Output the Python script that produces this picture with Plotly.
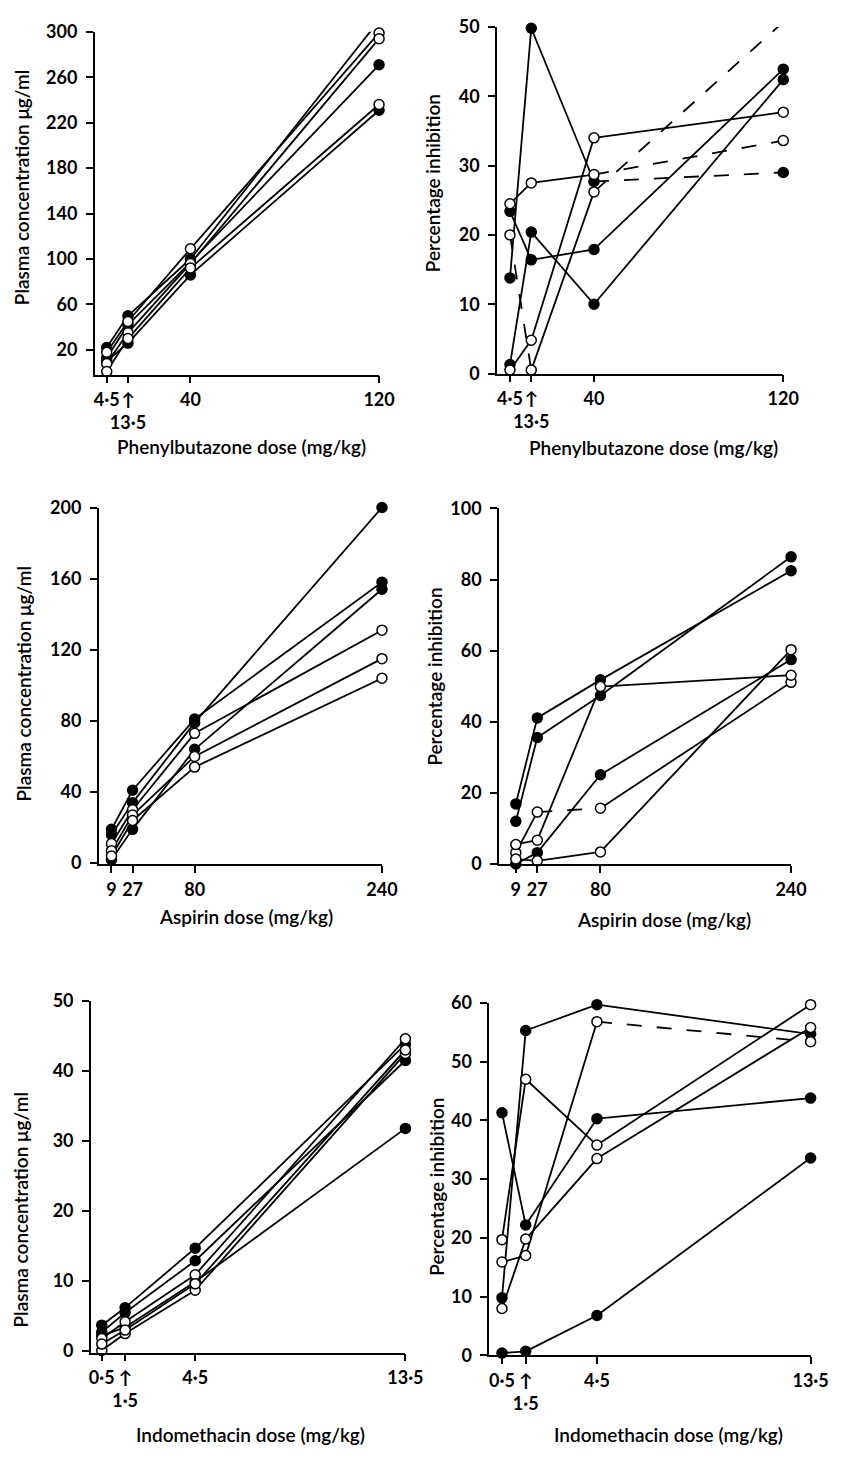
import plotly.graph_objects as go

# ---------------- data ----------------
phen_dose = [4.5, 13.5, 40, 120]
phen_conc_filled = [[22, 50, 100, 310], [13, 42, 97, 271], [10, 26, 86, 231]]
phen_conc_open = [[18, 45, 109, 299], [8, 35, 96, 294], [1, 30, 92, 236]]
phen_inh_filled = [[13.8, 49.8, 27.7, 29.0], [23.4, 16.4, 17.9, 43.9], [1.3, 20.4, 10.0, 42.4]]
phen_inh_open = [[24.5, 27.5, 28.7, 33.6], [20.0, 0.5, 26.2, 50.7], [0.5, 4.8, 34.0, 37.7]]

asp_dose = [9, 27, 80, 240]
asp_conc_filled = [[19, 41, 81, 158], [16, 34, 79, 200], [2, 19, 64, 154]]
asp_conc_open = [[11, 30, 73, 131], [7, 27, 60, 115], [4, 24, 54, 104]]
asp_inh_filled = [[16.9, 41.1, 51.8, 82.5], [12.0, 35.6, 47.4, 86.4], [0.0, 3.2, 25.1, 57.5]]
asp_inh_open = [[3.2, 14.6, 15.7, 51.1], [5.5, 6.7, 49.9, 53.1], [1.4, 0.9, 3.4, 60.3]]

indo_dose = [0.5, 1.5, 4.5, 13.5]
indo_conc_filled = [[3.7, 6.2, 14.7, 43.8], [2.7, 5.5, 12.9, 41.5], [2.2, 3.4, 9.9, 31.8]]
indo_conc_open = [[1.8, 4.2, 10.9, 44.6], [0.1, 2.5, 8.7, 42.5], [1.0, 3.0, 9.6, 43.0]]
indo_inh_filled = [[41.3, 22.2, 40.3, 43.8], [9.8, 55.3, 59.7, 54.7], [0.4, 0.7, 6.8, 33.6]]
indo_inh_open = [[19.7, 47.0, 35.8, 59.7], [15.9, 17.0, 56.8, 53.4], [8.0, 19.8, 33.5, 55.8]]

phen_ticktext = ["4·5", "↑<br>13·5", "40", "120"]
asp_ticktext = ["9", "27", "80", "240"]
indo_ticktext = ["0·5", "↑<br>1·5", "4·5", "13·5"]

# ---------------- styling ----------------
OFF = 8                      # default page body margin
W, H = 854 - OFF, 1460 - OFF
FONT = "Lato"


def px_x(p):
    return (p - OFF) / W


def px_y(p):
    return 1 - (p - OFF) / H


# dashed segments: (panel, kind, series index) -> segment indices drawn dashed
dashed = {
    (2, "f", 0): [2],
    (2, "o", 0): [2],
    (2, "o", 1): [0, 2],
    (4, "o", 0): [1],
    (6, "o", 1): [2],
}

panels = [
    # id, dose, filled, open, ticktext, yticks, xrange, yrange, xdom_px, ydom_px
    (1, phen_dose, phen_conc_filled, phen_conc_open, phen_ticktext,
     [20, 60, 100, 140, 180, 220, 260, 300], [-0.5, 120], [-1.7, 300], (95, 386), (20, 368)),
    (2, phen_dose, phen_inh_filled, phen_inh_open, phen_ticktext,
     [0, 10, 20, 30, 40, 50], [-0.9, 120], [0, 50], (507, 800), (15, 367)),
    (3, asp_dose, asp_conc_filled, asp_conc_open, asp_ticktext,
     [0, 40, 80, 120, 160, 200], [-1.8, 240], [-0.5, 200], (99, 389), (503, 865)),
    (4, asp_dose, asp_inh_filled, asp_inh_open, asp_ticktext,
     [0, 20, 40, 60, 80, 100], [-5, 240], [0, 100], (509, 808), (504, 865)),
    (5, indo_dose, indo_conc_filled, indo_conc_open, indo_ticktext,
     [0, 10, 20, 30, 40, 50], [0.04, 13.5], [-0.2, 50], (91, 413), (1004, 1361)),
    (6, indo_dose, indo_inh_filled, indo_inh_open, indo_ticktext,
     [0, 10, 20, 30, 40, 50, 60], [-0.03, 13.5], [0, 60], (499, 828), (1006, 1364)),
]

fig = go.Figure()
layout = {}

for pid, dose, filled, opened, ttext, yticks, xr, yr, xd, yd in panels:
    xa = "x" if pid == 1 else f"x{pid}"
    ya = "y" if pid == 1 else f"y{pid}"
    for kind, group in (("f", filled), ("o", opened)):
        for si, vals in enumerate(group):
            dsegs = dashed.get((pid, kind, si), [])
            for k in range(len(dose) - 1):
                fig.add_trace(go.Scatter(
                    x=dose[k:k + 2], y=vals[k:k + 2], mode="lines",
                    line=dict(color="black", width=1.8,
                              dash="longdash" if k in dsegs else "solid"),
                    xaxis=xa, yaxis=ya, showlegend=False, hoverinfo="skip",
                    cliponaxis=False))
    for kind, group in (("f", filled), ("o", opened)):
        for vals in group:
            fig.add_trace(go.Scatter(
                x=dose, y=vals, mode="markers",
                marker=dict(size=10, symbol="circle",
                            color="black" if kind == "f" else "white",
                            line=dict(color="black", width=1.5)),
                xaxis=xa, yaxis=ya, showlegend=False, cliponaxis=False))

    common = dict(showline=True, linecolor="black", linewidth=1.8,
                  ticks="outside", ticklen=7, tickwidth=1.8, tickcolor="black",
                  showgrid=False, zeroline=False,
                  tickfont=dict(family=FONT, size=18, color="black", weight="bold"))
    layout["xaxis" if pid == 1 else f"xaxis{pid}"] = dict(
        common, domain=[px_x(xd[0]), px_x(xd[1])], range=xr, anchor=ya,
        tickvals=dose, ticktext=ttext, tickangle=0, ticklabelstandoff=1)
    layout["yaxis" if pid == 1 else f"yaxis{pid}"] = dict(
        common, domain=[px_y(yd[1]), px_y(yd[0])], range=yr, anchor=xa,
        tickvals=yticks, ticktext=[str(t) for t in yticks], ticklabelstandoff=5)

titles = [
    # text, x_px, y_px, angle
    ("Plasma concentration μg/ml", 20, 178, -90),
    ("Percentage inhibition", 441, 174, -90),
    ("Plasma concentration μg/ml", 22, 682, -90),
    ("Percentage inhibition", 443, 675, -90),
    ("Plasma concentration μg/ml", 19, 1216, -90),
    ("Percentage inhibition", 444, 1193, -90),
    ("Phenylbutazone dose (mg/kg)", 245, 441, 0),
    ("Phenylbutazone dose (mg/kg)", 667, 442, 0),
    ("Aspirin dose (mg/kg)", 250, 918, 0),
    ("Aspirin dose (mg/kg)", 678, 921, 0),
    ("Indomethacin dose (mg/kg)", 254, 1444, 0),
    ("Indomethacin dose (mg/kg)", 682, 1444, 0),
]
annotations = []
for text, xp, yp, ang in titles:
    annotations.append(dict(text=text, x=px_x(xp), y=px_y(yp), xref="paper", yref="paper",
                            showarrow=False, textangle=ang, xanchor="center", yanchor="middle",
                            font=dict(family=FONT, size=19, color="black", weight=600)))

fig.update_layout(
    width=W, height=H, margin=dict(l=0, r=0, t=0, b=0),
    paper_bgcolor="white", plot_bgcolor="white",
    annotations=annotations, **layout)

fig.write_html("out.html")
